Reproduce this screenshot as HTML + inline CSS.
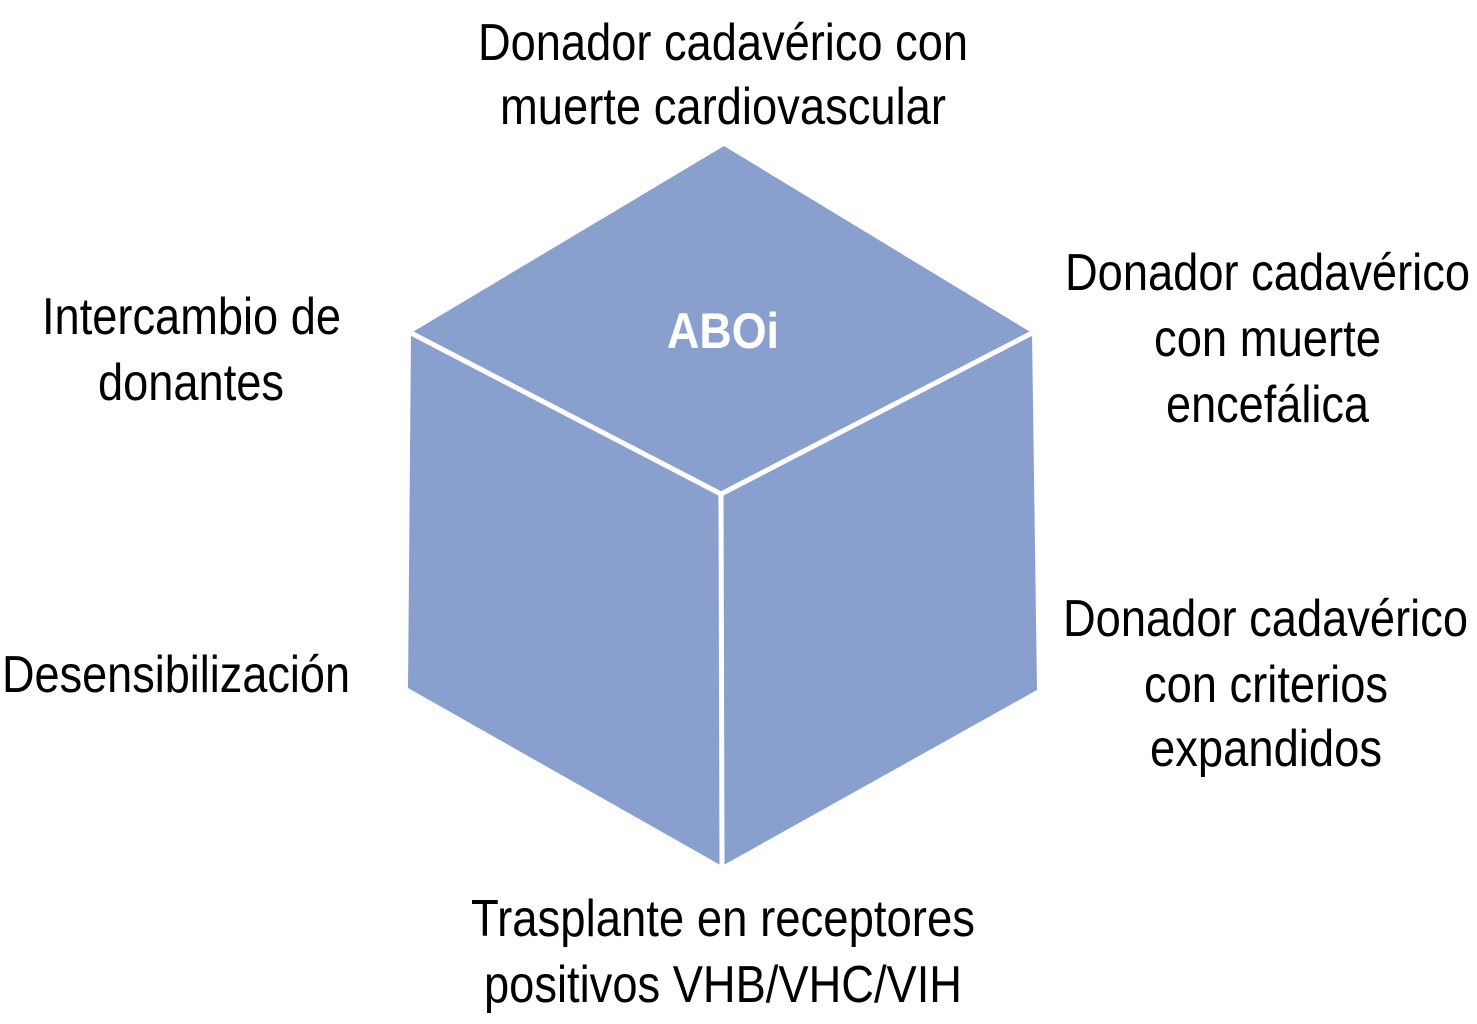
<!DOCTYPE html>
<html><head><meta charset="utf-8"><style>
html,body{margin:0;padding:0;background:#fff;}
svg{display:block}
text{font-family:"Liberation Sans Narrow","Liberation Sans",sans-serif;font-size:52px;fill:#000;}
</style></head><body>
<svg width="1477" height="1024" viewBox="0 0 1477 1024">
<polygon points="724,146 1032,333 1037,690 722,866 408,688 411,333" fill="#89a0cf"/>
<polyline points="411,333 721,494 1032,333" fill="none" stroke="#fff" stroke-width="5"/>
<line x1="721" y1="494" x2="722" y2="866" stroke="#fff" stroke-width="5"/>
<text x="667" y="348" textLength="112" lengthAdjust="spacingAndGlyphs" style="font-weight:bold;fill:#fff;font-size:50px">ABOi</text>
<text x="478" y="60" textLength="490" lengthAdjust="spacingAndGlyphs">Donador cadavérico con</text>
<text x="500" y="124" textLength="446" lengthAdjust="spacingAndGlyphs">muerte cardiovascular</text>
<text x="42" y="334" textLength="299" lengthAdjust="spacingAndGlyphs">Intercambio de</text>
<text x="98" y="400" textLength="186" lengthAdjust="spacingAndGlyphs">donantes</text>
<text x="2" y="692" textLength="348" lengthAdjust="spacingAndGlyphs">Desensibilización</text>
<text x="1065" y="290" textLength="405" lengthAdjust="spacingAndGlyphs">Donador cadavérico</text>
<text x="1154" y="356" textLength="227" lengthAdjust="spacingAndGlyphs">con muerte</text>
<text x="1166" y="422" textLength="203" lengthAdjust="spacingAndGlyphs">encefálica</text>
<text x="1063" y="636" textLength="405" lengthAdjust="spacingAndGlyphs">Donador cadavérico</text>
<text x="1144" y="702" textLength="244" lengthAdjust="spacingAndGlyphs">con criterios</text>
<text x="1150" y="766" textLength="232" lengthAdjust="spacingAndGlyphs">expandidos</text>
<text x="471" y="936" textLength="504" lengthAdjust="spacingAndGlyphs">Trasplante en receptores</text>
<text x="484" y="1002" textLength="478" lengthAdjust="spacingAndGlyphs">positivos VHB/VHC/VIH</text>
</svg>
</body></html>
